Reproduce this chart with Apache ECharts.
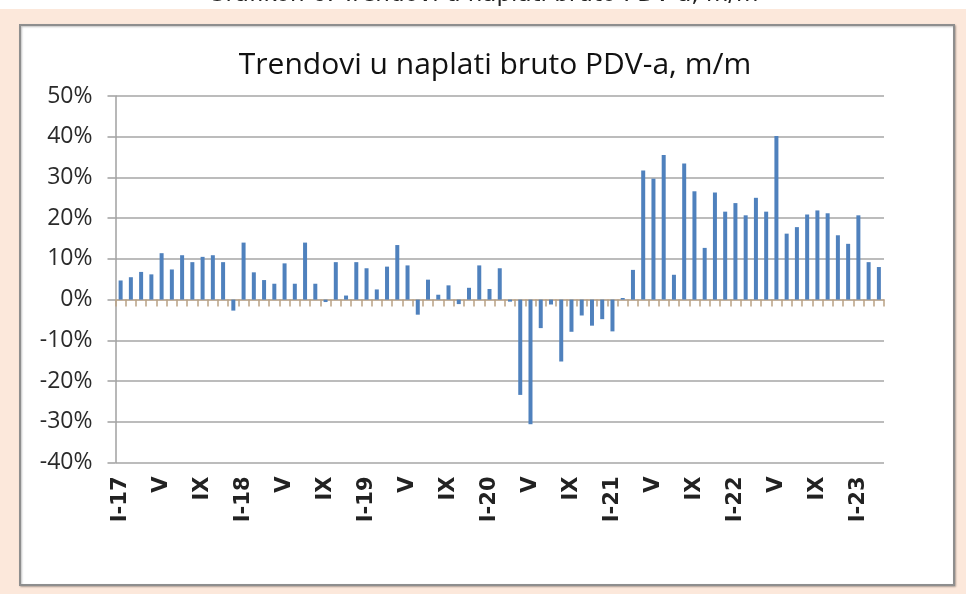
<!DOCTYPE html>
<html>
<head>
<meta charset="utf-8">
<script src="https://cdn.jsdelivr.net/npm/echarts@6/dist/echarts.min.js"></script>
<style>
html,body{margin:0;padding:0;background:#fff;}
#c{width:966px;height:594px;}
</style>
</head>
<body>
<div id="c"></div>
<script>
const caption = 'Grafikon 6: Trendovi u naplati bruto PDV-a, m/m';
const title = 'Trendovi u naplati bruto PDV-a, m/m';
const months = ['I','II','III','IV','V','VI','VII','VIII','IX','X','XI','XII'];
const years = ['17','18','19','20','21','22','23'];
const monthCount = 75;
const values = [
  4.7, 5.5, 6.8, 6.2, 11.4, 7.4, 10.9, 9.2, 10.5, 10.9, 9.2, -2.7,
  14.0, 6.7, 4.8, 3.9, 8.9, 3.9, 14.0, 3.9, -0.6, 9.2, 1.0, 9.2,
  7.7, 2.5, 8.1, 13.4, 8.4, -3.7, 4.9, 1.2, 3.5, -1.1, 2.9, 8.4,
  2.6, 7.7, -0.5, -23.4, -30.6, -7.0, -1.2, -15.2, -7.9, -3.9, -6.4, -4.8,
  -7.8, 0.4, 7.3, 31.7, 29.7, 35.5, 6.1, 33.4, 26.6, 12.7, 26.3, 21.6,
  23.7, 20.7, 25.0, 21.6, 40.2, 16.2, 17.8, 20.9, 21.9, 21.2, 15.8, 13.7,
  20.7, 9.2, 8.0
];
const yTicks = {min: -40, max: 50, interval: 10};

const categories = [];
for (let i = 0; i < monthCount; i++) {
  const m = i % 12, y = Math.floor(i / 12);
  categories.push(m === 0 ? months[m] + '-' + years[y] : months[m]);
}

const chart = echarts.init(document.getElementById('c'), null, {renderer: 'canvas'});
chart.setOption({
  animation: false,
  backgroundColor: '#ffffff',
  title: {
    text: title,
    left: 490, top: 45, textAlign: 'center',
    textStyle: {fontFamily: 'Open Sans', fontSize: 30, fontWeight: 'normal', color: '#111'}
  },
  graphic: [
    {type: 'text', z: -10, left: 'center', top: -16,
     style: {text: caption, font: '23px "DejaVu Sans"', fill: '#222'}},
    {type: 'rect', z: -9, shape: {x: 0, y: 9, width: 966, height: 585}, style: {fill: '#fce8db'}},
    {type: 'rect', z: -8, shape: {x: 20, y: 25, width: 934, height: 560},
     style: {fill: '#ffffff', stroke: '#8e8e8e', lineWidth: 2, shadowColor: 'rgba(0,0,0,0.25)', shadowBlur: 2, shadowOffsetX: 1, shadowOffsetY: 1}}
  ],
  grid: {left: 115.5, right: 82, top: 96, bottom: 131.5, containLabel: false},
  xAxis: [
    {
      type: 'category', data: categories, boundaryGap: true,
      axisLine: {show: false, onZero: false},
      axisTick: {show: false},
      axisLabel: {interval: 3, rotate: 90, margin: 14, fontFamily: 'DejaVu Sans', fontSize: 21, fontWeight: 'bold', color: '#222'}
    },
    {
      type: 'category', data: categories, boundaryGap: true, position: 'bottom',
      axisLine: {show: true, onZero: true, lineStyle: {color: '#c4ad93', width: 1.5}},
      axisTick: {show: true, interval: 0, length: 7, lineStyle: {color: '#b9a184', width: 1.5}},
      axisLabel: {show: false}
    }
  ],
  yAxis: {
    type: 'value', min: yTicks.min, max: yTicks.max, interval: yTicks.interval,
    axisLine: {show: true, lineStyle: {color: '#a0a0a0', width: 1.5}},
    axisTick: {show: true, length: 8, lineStyle: {color: '#a0a0a0', width: 1.5}},
    splitLine: {show: true, lineStyle: {color: '#a6a6a6', width: 1.5}},
    axisLabel: {formatter: '{value}%', margin: 23, fontFamily: 'Open Sans', fontSize: 23, color: '#2a2a2a'}
  },
  series: [{
    type: 'bar', xAxisIndex: 0, data: values, barWidth: 4,
    itemStyle: {color: '#4f81bd'}
  }]
});
</script>
</body>
</html>
